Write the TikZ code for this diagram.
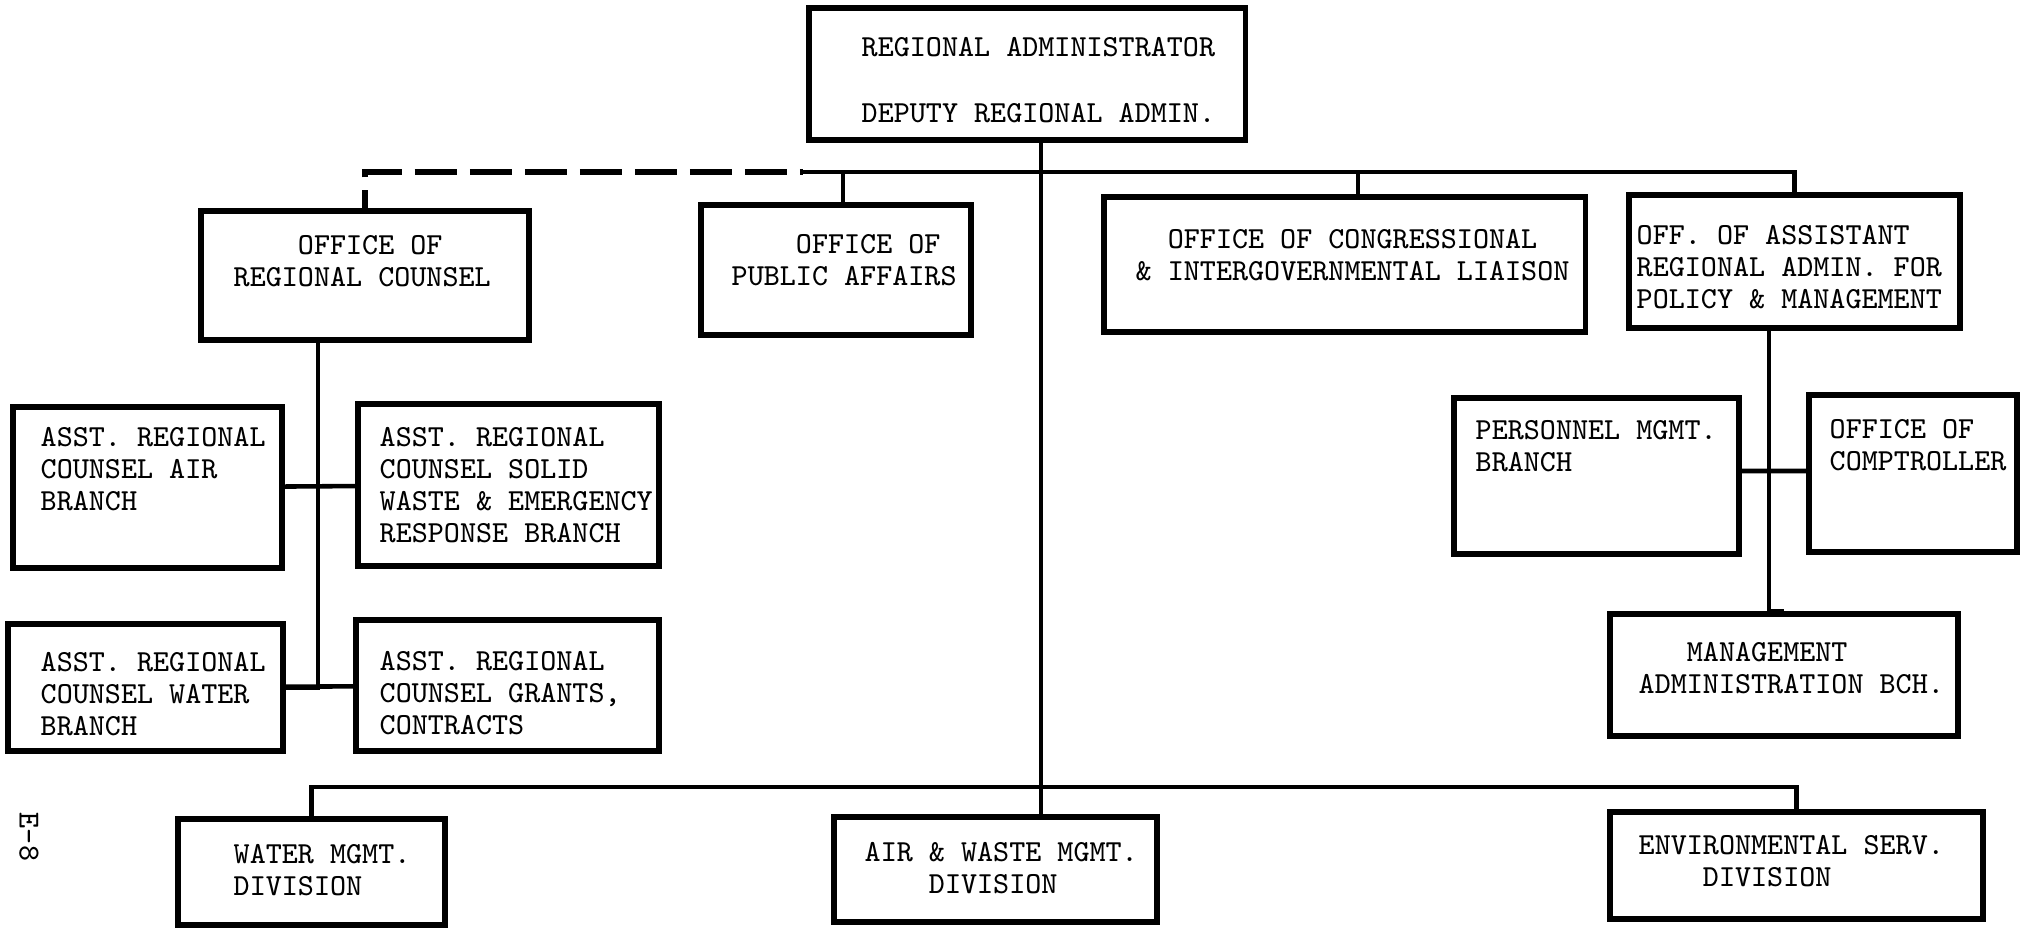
\documentclass[tikz,border=0pt]{standalone}
\usepackage{fontspec}
\tikzstyle{block} = [rectangle, draw=black, line width=1.5pt, inner sep=0pt]
\tikzstyle{txt} = [anchor=west, align=left, inner sep=0pt, font=\ttfamily\fontsize{8.7}{9.1}\selectfont]
\tikzstyle{link} = [draw=black, line width=1.3pt]
\tikzstyle{dashlink} = [link, line width=1.6pt, dash pattern=on 0.42cm off 0.13cm, dash phase=0.24cm]

\begin{document}
\begin{tikzpicture}[x=0.01cm, y=-0.01cm]
    \useasboundingbox (0,0) rectangle (2030,928);

    % boxes
    \node (ra) [block, minimum width=4.36cm, minimum height=1.32cm] at (1027, 74) {};
    \node (orc) [block, minimum width=3.28cm, minimum height=1.29cm] at (365, 275.5) {};
    \node (opa) [block, minimum width=2.70cm, minimum height=1.30cm] at (836, 270) {};
    \node (cong) [block, minimum width=4.81cm, minimum height=1.35cm] at (1344.5, 264.5) {};
    \node (policy) [block, minimum width=3.31cm, minimum height=1.33cm] at (1794.5, 261.5) {};
    \node (air) [block, minimum width=2.69cm, minimum height=1.61cm] at (147.5, 487.5) {};
    \node (solid) [block, minimum width=3.01cm, minimum height=1.62cm] at (508.5, 485) {};
    \node (water) [block, minimum width=2.75cm, minimum height=1.27cm] at (145.5, 687.5) {};
    \node (grants) [block, minimum width=3.03cm, minimum height=1.31cm] at (507.5, 685.5) {};
    \node (personnel) [block, minimum width=2.85cm, minimum height=1.56cm] at (1596.5, 476) {};
    \node (comptroller) [block, minimum width=2.08cm, minimum height=1.57cm] at (1913, 473.5) {};
    \node (mgmtadmin) [block, minimum width=3.48cm, minimum height=1.22cm] at (1784, 675) {};
    \node (waterdiv) [block, minimum width=2.67cm, minimum height=1.06cm] at (311.5, 872) {};
    \node (airdiv) [block, minimum width=3.23cm, minimum height=1.05cm] at (995.5, 869.5) {};
    \node (envdiv) [block, minimum width=3.73cm, minimum height=1.07cm] at (1796.5, 865.5) {};

    % box texts
    \node (raT) [txt] at (861, 80) {REGIONAL ADMINISTRATOR\\[0.34cm]DEPUTY REGIONAL ADMIN.};
    \node (orcT) [txt] at (233, 261) {~~~~OFFICE OF\\REGIONAL COUNSEL};
    \node (opaT) [txt] at (731, 260) {~~~~OFFICE OF\\PUBLIC AFFAIRS};
    \node (congT) [txt] at (1135, 255) {~~OFFICE OF CONGRESSIONAL\\\& INTERGOVERNMENTAL LIAISON};
    \node (policyT) [txt] at (1636, 267) {OFF. OF ASSISTANT\\REGIONAL ADMIN. FOR\\POLICY \& MANAGEMENT};
    \node (airT) [txt] at (40, 469) {ASST. REGIONAL\\COUNSEL AIR\\BRANCH};
    \node (solidT) [txt] at (379, 485) {ASST. REGIONAL\\COUNSEL SOLID\\WASTE \& EMERGENCY\\RESPONSE BRANCH};
    \node (waterT) [txt] at (40, 694) {ASST. REGIONAL\\COUNSEL WATER\\BRANCH};
    \node (grantsT) [txt] at (379, 693) {ASST. REGIONAL\\COUNSEL GRANTS,\\CONTRACTS};
    \node (personnelT) [txt] at (1475, 446) {PERSONNEL MGMT.\\BRANCH};
    \node (comptrollerT) [txt] at (1829, 445) {OFFICE OF\\COMPTROLLER};
    \node (mgmtadminT) [txt] at (1638, 668) {~~~MANAGEMENT\\ADMINISTRATION BCH.};
    \node (waterdivT) [txt] at (233, 870) {WATER MGMT.\\DIVISION};
    \node (airdivT) [txt] at (864, 868) {AIR \& WASTE MGMT.\\~~~~DIVISION};
    \node (envdivT) [txt] at (1638, 861) {ENVIRONMENTAL SERV.\\~~~~DIVISION};

    % page number
    \node (page) [font=\ttfamily\fontsize{8.7}{9.1}\selectfont, rotate=-90, inner sep=0pt] at (29, 837) {E-8};

    % lines
    \coordinate (spine) at ([xshift=0.14cm]ra.south);
    \coordinate (upper) at (1041, 172);
    \coordinate (lower) at (1041, 787);
    \coordinate (dashend) at (803, 172);

    \draw [link] (spine) -- (spine |- airdiv.north);
    \draw [dashlink] (orc.north) |- (dashend);
    \draw [link] (policy.north) |- (dashend);
    \draw [link] ([xshift=0.07cm]opa.north) |- (upper);
    \draw [link] ([xshift=0.135cm]cong.north) |- (upper);

    \draw [link] ([xshift=-0.47cm]orc.south) |- (water.east);
    \draw [link] (air) -- (solid);
    \draw [link] (water) -- (grants);

    \draw [link] ([xshift=-0.255cm]policy.south) |- (mgmtadmin.north);
    \draw [link] ([yshift=0.05cm]personnel.east) -- ([yshift=0.025cm]comptroller.west);

    \draw [link] (waterdiv.north) |- (lower) -| (envdiv.north);

\end{tikzpicture}
\end{document}
